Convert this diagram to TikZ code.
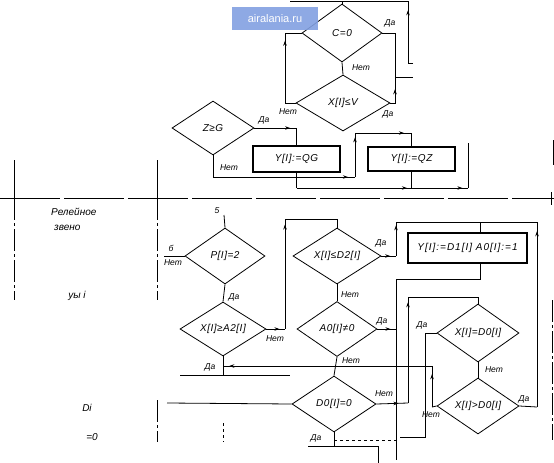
\documentclass[tikz,border=0pt]{standalone}
\usepackage{fontspec}
\setmainfont{Liberation Sans}
\usetikzlibrary{shapes.geometric,arrows.meta,decorations.markings}
\definecolor{wmblue}{RGB}{130,160,225}
\tikzset{
  ln/.style={line width=0.8pt},
  dia/.style={draw, line width=0.8pt, shape=diamond, aspect=2, inner sep=0pt,
              font=\fontsize{10}{11}\selectfont\itshape\addfontfeatures{LetterSpace=5}},
  boxn/.style={draw, line width=1.2pt, inner sep=0pt,
              font=\fontsize{10}{11}\selectfont\itshape\addfontfeatures{LetterSpace=6}},
  lab/.style={font=\fontsize{8.5}{9}\selectfont\itshape, inner sep=0.5pt},
  side/.style={font=\fontsize{10}{11}\selectfont\itshape, inner sep=0pt},
  arrat/.style={postaction={decorate}, decoration={markings,
      mark=at position #1 with {\arrow{Stealth[length=5pt,width=3.5pt]}}}},
  arrat/.default=0.5,
  longdash/.style={dash pattern=on 60pt off 4pt},
  middash/.style={dash pattern=on 22pt off 3pt on 3pt off 3pt},
}
\begin{document}
\begin{tikzpicture}[x=1pt,y=-1pt]
\useasboundingbox (0,0) rectangle (554,463);

% ---------- upper part ----------
\node[dia, minimum width=80pt, minimum height=58pt] (dC) at (342,33) {C=0};
\node[dia, minimum width=94pt, minimum height=56pt] (dX) at (343,103) {X[I]≤V};
\node[dia, minimum width=82pt, minimum height=54pt] (dZ) at (213,128) {Z≥G};
\node[boxn, minimum width=87pt, minimum height=26pt] (bQG) at (296.5,159) {Y[I]:=QG};
\node[boxn, minimum width=87pt, minimum height=24pt] (bQZ) at (411.5,159) {Y[I]:=QZ};

\coordinate (tin) at (413,63);
\coordinate (tout) at (413,77);
\coordinate (tleft) at (290,1);
\draw[ln] (tin) -- (408,63);
\draw[ln,arrat=0.85] (408,63) -- (408,1);
\draw[ln] (408,1) -- (tleft);
\draw[ln] (342,1) -- (dC.north);

\draw[ln] (dC.east) -- (395,33) -- (395,77) -- (tout);
\node[lab] at (390,23) {Да};
\draw[ln,arrat=0.6] (dX.east) -- (395,103) -- (395,77);
\node[lab] at (388,114) {Да};
\draw[ln] (dC.south) -- (dX.north);
\node[lab] at (361,68) {Нет};
\draw[ln,arrat=0.75] (dX.west) -- (285,103) -- (285,33) -- (dC.west);
\node[lab] at (288,112) {Нет};

\draw[ln,arrat=0.6] (dZ.east) -| (bQG.north);
\node[lab] at (264,120) {Да};
\draw[ln] (dZ.south) -- (213,177);
\node[lab] at (229,168) {Нет};
\draw[ln,arrat=0.95] (213,177) -- (355,177);
\draw[ln,arrat=0.9] (355,177) -- (355,133);
\draw[ln,arrat=0.7] (355,133) -| (bQZ.north);

\coordinate (zex) at (468,143);
\draw[ln] (bQG.south) -- (296.5,188);
\draw[ln,arrat=0.96] (296.5,188) -- (411.5,188);
\draw[ln,arrat=0.9] (411.5,188) -- (468,188);
\draw[ln] (468,188) -- (zex);
\draw[ln] (bQZ.south) -- (411.5,188);

% ---------- grid lines ----------
\draw[ln] (14,160) -- (14,198);
\draw[ln,middash] (14,198) -- (14,300);
\draw[ln] (157,160) -- (157,198);
\draw[ln,middash] (157,198) -- (157,300);
\draw[ln,middash] (157,400) -- (157,442);
\draw[ln,longdash] (0,198) -- (554,198);
\draw[ln] (551,192) -- (551,205);
\draw[ln] (553,140) -- (553,165);
\draw[ln,middash] (552,300) -- (552,440);

\node[side,anchor=west] at (51,212) {Релейное};
\node[side,anchor=west] at (54,228) {звено};
\node[side] at (77,296) {уы i};
\node[side] at (87,408) {Di};
\node[side] at (92,437) {=0};

% ---------- lower part ----------
\node[dia, minimum width=80pt, minimum height=56pt] (dP) at (225,256) {P[I]=2};
\node[dia, minimum width=86pt, minimum height=54pt] (dA2) at (223,329) {X[I]≥A2[I]};
\node[dia, minimum width=88pt, minimum height=56pt] (dD2) at (337,256) {X[I]≤D2[I]};
\node[dia, minimum width=80pt, minimum height=55pt] (dA0) at (337,329) {A0[I]≠0};
\node[dia, minimum width=84pt, minimum height=56pt] (dD0) at (334,404) {D0[I]=0};
\node[dia, minimum width=82pt, minimum height=58pt] (dEq) at (478,333) {X[I]=D0[I]};
\node[dia, minimum width=82pt, minimum height=56pt] (dGt) at (478,406) {X[I]>D0[I]};
\node[boxn, minimum width=119pt, minimum height=30pt,
      font=\fontsize{10}{11}\selectfont\itshape\addfontfeatures{LetterSpace=10}] (bY) at (467.5,248) {Y[I]:=D1[I] A0[I]:=1};

\coordinate (c5) at (224,215);
\node[lab] at (217,211) {5};
\draw[ln] (c5) -- (dP.north);
\coordinate (pB) at (164,256);
\draw[ln] (dP.west) -- (pB);
\node[lab] at (171,248) {б};
\node[lab] at (173,263) {Нет};

\draw[ln] (dP.south) -- (dA2.north);
\node[lab] at (234,297) {Да};
\draw[ln,arrat=0.7] (dA2.east) -- (285,329);
\draw[ln,arrat=0.95] (285,329) -- (285,219);
\draw[ln] (285,219) -| (dD2.north);
\node[lab] at (275,339) {Нет};

\coordinate (aL) at (180,375);
\coordinate (aR) at (290,375);
\draw[ln] (dA2.south) -- (223,375);
\node[lab] at (210,367) {Да};
\draw[ln] (aL) -- (aR);
\coordinate (dL) at (167,403);
\draw[ln] (dL) -- (dD0.west);
\draw[ln,dashed] (223,423) -- (223,442);

\draw[ln] (dD2.south) -- (dA0.north);
\node[lab] at (350,295) {Нет};
\draw[ln] (dA0.south) -- (dD0.north);
\node[lab] at (351,361) {Нет};

\draw[ln,arrat=0.6] (dD2.east) -- (396,256);
\draw[ln,arrat=0.9] (396,256) -- (396,222);
\draw[ln] (396,222) -- (537,222);
\draw[ln] (480,222) -- (480,233);
\node[lab] at (381,243) {Да};

\draw[ln] (dGt.east) -- (537,407);
\draw[ln,arrat=0.95] (537,407) -- (537,222);
\node[lab] at (524,399) {Да};

\coordinate (bex) at (396,460);
\draw[ln] (480,263) -- (480,279) -- (396,279) -- (bex);
\draw[ln,arrat=0.7] (dA0.east) -- (396,329);
\node[lab] at (382,321) {Да};

\draw[ln,arrat=0.7] (dD0.east) -- (408,403);
\node[lab] at (384,394) {Нет};
\draw[ln,arrat=0.95] (408,403) -- (408,297);
\draw[ln] (408,297) -| (dEq.north);

\draw[ln] (dEq.south) -- (dGt.north);
\node[lab] at (494,370) {Нет};
\coordinate (eqx) at (400,437);
\draw[ln] (dEq.west) -- (425,333) -- (425,437) -- (eqx);
\node[lab] at (422,325) {Да};

\draw[ln] (dGt.west) -- (432,407);
\draw[ln,arrat=0.8] (432,407) -- (432,366);
\draw[ln,arrat=0.97] (432,366) -- (223,366);
\node[lab] at (431,415) {Нет};

\coordinate (d0a) at (308,446);
\coordinate (d0b) at (378,463);
\draw[ln] (dD0.south) -- (334,446);
\draw[ln] (d0a) -- (378,446) -- (d0b);
\node[lab] at (316,438) {Да};
\draw[ln,dashed] (334,440) -- (397,440);

% ---------- watermark ----------
\node[fill=wmblue, fill opacity=0.9, text opacity=1, text=white,
      font=\fontsize{11}{12}\selectfont, minimum width=86pt, minimum height=23pt,
      inner sep=0pt] (wm) at (275,18.5) {airalania.ru};
\end{tikzpicture}
\end{document}
